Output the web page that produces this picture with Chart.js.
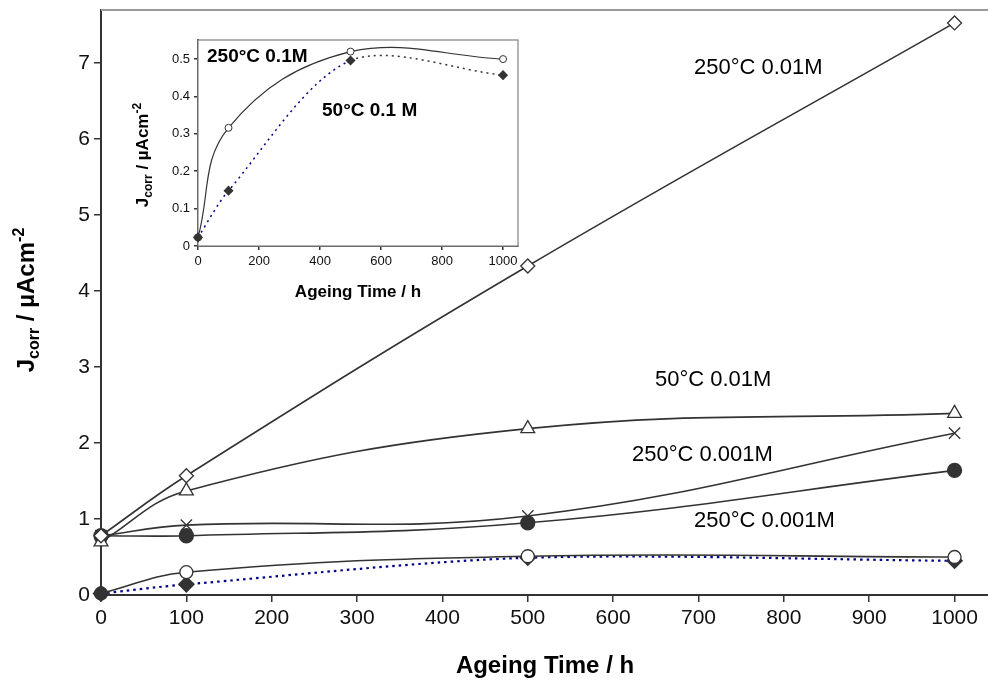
<!DOCTYPE html>
<html>
<head>
<meta charset="utf-8">
<script src="https://cdn.jsdelivr.net/npm/chart.js@4.4.1/dist/chart.umd.min.js"></script>
<style>
    html, body { margin: 0; padding: 0; background: #fff; overflow: hidden; }
    #wrap { position: relative; width: 988px; height: 680px; overflow: hidden; }
    #mainChart { position: absolute; left: 0; top: 0; }
    #insetBox { position: absolute; left: 130px; top: 30px; width: 400px; height: 280px; }
</style>
</head>
<body>
<div id="wrap">
    <!-- canvas is a bit wider than the page so the x axis runs to the window edge -->
    <canvas id="mainChart" width="998" height="680"></canvas>
    <div id="insetBox"><canvas id="insetChart" width="400" height="280"></canvas></div>
</div>
<script>
// Ageing times (h)
const hours = [0, 100, 500, 1000];

// Corrosion current density, µA/cm²
const j250C001M = [0.78, 1.57, 4.33, 7.53];   // open diamonds
const j50C001M = [0.70, 1.37, 2.19, 2.39];    // open triangles
const j250C0001Ma = [0.78, 0.92, 1.04, 2.13]; // crosses
const j250C0001Mb = [0.78, 0.78, 0.95, 1.64]; // filled circles
const j250C01M = [0.02, 0.30, 0.51, 0.50];    // open circles
const j50C01M = [0.02, 0.14, 0.49, 0.45];     // filled diamonds

// Inset (0.1 M solutions)
const insetJ250C01M = [0.023, 0.316, 0.52, 0.50];
const insetJ50C01M = [0.023, 0.148, 0.496, 0.457];

// Tick values
const xTicks = [0, 100, 200, 300, 400, 500, 600, 700, 800, 900, 1000];
const yTicks = [0, 1, 2, 3, 4, 5, 6, 7];
const insetXTicks = [0, 200, 400, 600, 800, 1000];
const insetYTicks = [0, 0.1, 0.2, 0.3, 0.4, 0.5];

const INK = '#333';
const FONT = '"Liberation Sans", Arial, sans-serif';

function toPoints(ys) {
    return hours.map(function(h, i) { return { x: h, y: ys[i] }; });
}

function solidSeries(label, ys, style, filled, radius) {
    return {
        label: label,
        data: toPoints(ys),
        borderColor: INK,
        borderWidth: 1.6,
        tension: 0.4,
        pointStyle: style,
        pointRadius: radius,
        pointBorderWidth: 1.3,
        pointBorderColor: INK,
        pointBackgroundColor: filled ? INK : '#fff',
        clip: false
    };
}

// Draws a rotated "Jcorr / µAcm-2" title with sub/superscripts
function drawJTitle(ctx, cx, cy, size) {
    const small = Math.round(size * 0.68);
    const parts = [
        { t: 'J', f: size, dy: 0 },
        { t: 'corr', f: small, dy: size * 0.22 },
        { t: ' / µAcm', f: size, dy: 0 },
        { t: '-2', f: small, dy: -size * 0.42 }
    ];
    ctx.save();
    let total = 0;
    parts.forEach(function(p) {
        ctx.font = 'bold ' + p.f + 'px ' + FONT;
        p.w = ctx.measureText(p.t).width;
        total += p.w;
    });
    ctx.translate(cx, cy);
    ctx.rotate(-Math.PI / 2);
    ctx.fillStyle = '#000';
    ctx.textBaseline = 'alphabetic';
    let x = -total / 2;
    parts.forEach(function(p) {
        ctx.font = 'bold ' + p.f + 'px ' + FONT;
        ctx.fillText(p.t, x, size * 0.36 + p.dy);
        x += p.w;
    });
    ctx.restore();
}

const mainDecor = {
    id: 'mainDecor',
    afterDraw: function(chart) {
        const ctx = chart.ctx;
        const area = chart.chartArea;
        ctx.save();
        // top frame line
        ctx.strokeStyle = '#9a9a9a';
        ctx.lineWidth = 2;
        ctx.beginPath();
        ctx.moveTo(area.left, area.top);
        ctx.lineTo(area.right, area.top);
        ctx.stroke();

        ctx.fillStyle = '#000';
        ctx.font = '22px ' + FONT;
        ctx.textAlign = 'left';
        ctx.fillText('250°C 0.01M', 694, 74);
        ctx.fillText('50°C 0.01M', 655, 386);
        ctx.fillText('250°C 0.001M', 632, 461);
        ctx.fillText('250°C 0.001M', 694, 527);

        ctx.font = 'bold 24px ' + FONT;
        ctx.textAlign = 'center';
        ctx.fillText('Ageing Time / h', 545, 673);
        ctx.restore();
        drawJTitle(ctx, 25, 300, 24);
    }
};

const insetDecor = {
    id: 'insetDecor',
    beforeDatasetsDraw: function(chart) {
        const ctx = chart.ctx;
        const a = chart.chartArea;
        ctx.save();
        ctx.fillStyle = '#fff';
        ctx.fillRect(a.left, a.top, a.right - a.left, a.bottom - a.top);
        ctx.strokeStyle = '#8c8c8c';
        ctx.lineWidth = 1.3;
        ctx.strokeRect(a.left, a.top, a.right - a.left, a.bottom - a.top);
        ctx.restore();
    },
    afterDraw: function(chart) {
        const ctx = chart.ctx;
        ctx.save();
        ctx.fillStyle = '#000';
        ctx.font = 'bold 19px ' + FONT;
        ctx.textAlign = 'left';
        ctx.fillText('250°C 0.1M', 77, 32);
        ctx.fillText('50°C 0.1 M', 192, 86);
        ctx.font = 'bold 17px ' + FONT;
        ctx.textAlign = 'center';
        ctx.fillText('Ageing Time / h', 228, 267);
        ctx.restore();
        drawJTitle(ctx, 12, 125, 17);
    }
};

function axisCommon(min, max, ticks, fontSize, tickLen, fit, fitSize) {
    return {
        type: 'linear',
        min: min,
        max: max,
        afterBuildTicks: function(scale) {
            scale.ticks = ticks.map(function(v) { return { value: v }; });
        },
        afterFit: function(scale) {
            scale[fit] = fitSize;
            // labels never reach the plot edges, so no extra room is needed
            scale.paddingTop = 0;
            scale.paddingBottom = 0;
            scale.paddingLeft = 0;
            scale.paddingRight = 0;
        },
        border: { display: true, color: INK, width: 2 },
        grid: {
            display: true,
            drawOnChartArea: false,
            drawTicks: true,
            tickLength: tickLen,
            color: INK,
            lineWidth: 1.5
        },
        ticks: {
            color: '#111',
            padding: 4,
            font: { family: FONT, size: fontSize },
            callback: function(value) { return String(value); }
        }
    };
}

new Chart(document.getElementById('mainChart'), {
    type: 'line',
    data: {
        datasets: [
            solidSeries('250°C 0.01M', j250C001M, 'rectRot', false, 7),
            solidSeries('50°C 0.01M', j50C001M, 'triangle', false, 8),
            solidSeries('250°C 0.001M a', j250C0001Ma, 'crossRot', false, 8),
            solidSeries('250°C 0.001M b', j250C0001Mb, 'circle', true, 7),
            Object.assign(solidSeries('250°C 0.1M', j250C01M, 'circle', false, 6.5), {
                pointBackgroundColor: [INK, '#fff', '#fff', '#fff']
            }),
            {
                label: '50°C 0.1M',
                data: toPoints(j50C01M),
                borderColor: '#00008b',
                borderWidth: 2.2,
                borderDash: [2.5, 4],
                tension: 0.3,
                pointStyle: 'rectRot',
                pointRadius: 7,
                pointBorderColor: INK,
                pointBackgroundColor: INK,
                clip: false
            }
        ]
    },
    options: {
        responsive: false,
        animation: false,
        layout: { padding: { top: 10, right: 0, left: 0, bottom: 0 } },
        plugins: { legend: { display: false }, tooltip: { enabled: false } },
        scales: {
            x: axisCommon(0, 1040, xTicks, 21, 7, 'height', 85),
            y: axisCommon(0, 7.7, yTicks, 21, 7, 'width', 101)
        }
    },
    plugins: [mainDecor]
});

new Chart(document.getElementById('insetChart'), {
    type: 'line',
    data: {
        datasets: [
            {
                label: '250°C 0.1M',
                data: hours.map(function(h, i) { return { x: h, y: insetJ250C01M[i] }; }),
                borderColor: INK,
                borderWidth: 1.2,
                tension: 0.4,
                pointStyle: 'circle',
                pointRadius: 3.5,
                pointBorderWidth: 1,
                pointBorderColor: INK,
                pointBackgroundColor: [INK, '#fff', '#fff', '#fff'],
                clip: false
            },
            {
                label: '50°C 0.1M',
                data: hours.map(function(h, i) { return { x: h, y: insetJ50C01M[i] }; }),
                borderColor: '#00008b',
                borderWidth: 1.5,
                borderDash: [2, 4],
                tension: 0.3,
                segment: {
                    borderColor: function(ctx) { return ctx.p0DataIndex >= 2 ? '#333' : '#00008b'; }
                },
                pointStyle: 'rectRot',
                pointRadius: 4,
                pointBorderColor: INK,
                pointBackgroundColor: INK,
                clip: false
            }
        ]
    },
    options: {
        responsive: false,
        animation: false,
        layout: { padding: { top: 10, right: 12, left: 0, bottom: 0 } },
        plugins: { legend: { display: false }, tooltip: { enabled: false } },
        scales: {
            x: axisCommon(0, 1049, insetXTicks, 13, 4, 'height', 64),
            y: axisCommon(0, 0.551, insetYTicks, 13, 4, 'width', 68)
        }
    },
    plugins: [insetDecor]
});
</script>
</body>
</html>
